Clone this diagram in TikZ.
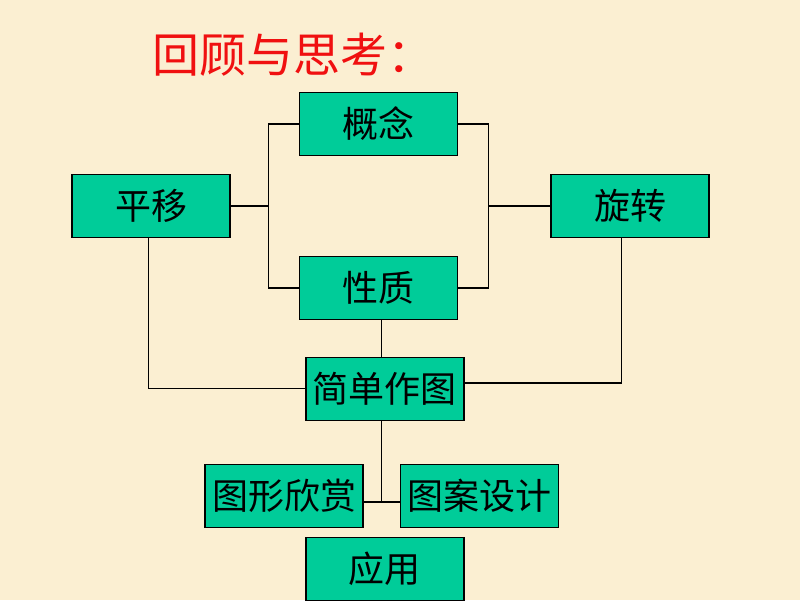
\documentclass[tikz,border=0pt]{standalone}
\usepackage{fontspec}
\newfontfamily\cjk{Noto Sans CJK SC}
\definecolor{bg}{HTML}{FBEFD2}
\definecolor{boxfill}{HTML}{00CC99}
\definecolor{titlered}{HTML}{F01010}
\tikzset{
  box/.style={draw=black, line width=1.4pt, fill=boxfill, minimum width=158pt, minimum height=63pt, inner sep=0pt, font=\cjk\fontsize{36}{40}\selectfont, text=black},
  link/.style={draw=black, line width=1.4pt}
}
\begin{document}
\begin{tikzpicture}[x=1pt,y=-1pt]
\fill[bg] (0,0) rectangle (800,600);
\useasboundingbox (0,0) rectangle (800,600);
\node[anchor=base west, inner sep=0pt, text=titlered, font=\cjk\fontsize{47}{50}\selectfont] (title) at (152,72) {回顾与思考：};
\node[box] (gn) at (378.3,124) {概念};
\node[box] (py) at (151,206) {平移};
\node[box] (xz) at (630,206) {旋转};
\node[box] (xzh) at (378.3,287.8) {性质};
\node[box] (jd) at (384.8,388.7) {简单作图};
\node[box] (tx) at (284,495.8) {图形欣赏};
\node[box] (ta) at (479.3,495.8) {图案设计};
\node[box] (yy) at (384.8,568.8) {应用};
\coordinate (L) at (268.7,206);
\coordinate (R) at (488.3,206);
\coordinate (B) at (381.7,502);
\draw[link] (gn.west) -| (L) |- (xzh.west);
\draw[link] (py.east) -- (L);
\draw[link] (gn.east) -| (R) |- (xzh.east);
\draw[link] (xz.west) -- (R);
\draw[link] ([xshift=3.4pt]xzh.south) -- ([xshift=3.4pt]xzh.south |- jd.north);
\draw[link] ([xshift=-2.4pt]py.south) |- (jd.west);
\draw[link] ([xshift=-8.6pt]xz.south) |- ([yshift=5.6pt]jd.east);
\draw[link] ([xshift=-3.1pt]jd.south) -- (B);
\draw[link] (tx.east |- B) -- (ta.west |- B);
\end{tikzpicture}
\end{document}
